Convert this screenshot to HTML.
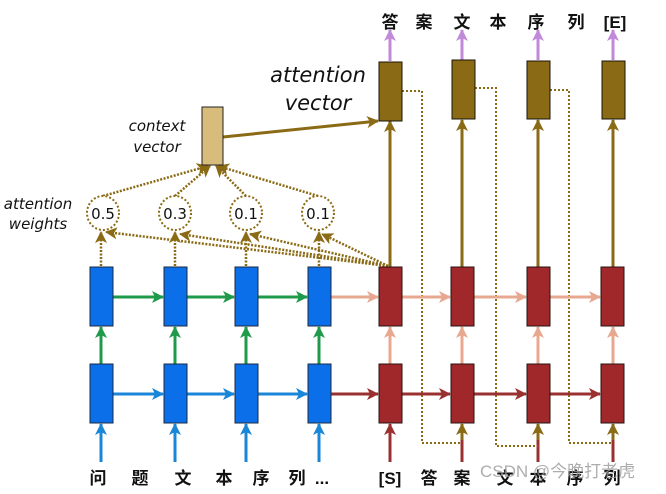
<!DOCTYPE html>
<html><head><meta charset="utf-8"><style>
html,body{margin:0;padding:0;background:#fff;}
svg{display:block;}
.cj{font-family:"Liberation Sans","Noto Sans CJK SC",sans-serif;font-weight:bold;font-size:17px;fill:#111;}
.it{font-family:"DejaVu Sans","Liberation Sans",sans-serif;font-style:italic;fill:#111;}
</style></head><body>
<svg width="666" height="494" viewBox="0 0 666 494" xmlns="http://www.w3.org/2000/svg">
<defs>
<marker id="aB" markerWidth="8" markerHeight="8" refX="7" refY="4" orient="auto" markerUnits="userSpaceOnUse" viewBox="0 0 8 8"><path d="M0,0 L8,4 L0,8 L2,4z" fill="#1a86d8"/></marker>
<marker id="aG" markerWidth="12" markerHeight="12" refX="11" refY="6" orient="auto" markerUnits="userSpaceOnUse"><path d="M0,0 L12,6 L0,12 L3,6z" fill="#1e9a4a"/></marker>
<marker id="aBl" markerWidth="12" markerHeight="12" refX="11" refY="6" orient="auto" markerUnits="userSpaceOnUse"><path d="M0,0 L12,6 L0,12 L3,6z" fill="#1a86d8"/></marker>
<marker id="aP" markerWidth="12" markerHeight="12" refX="11" refY="6" orient="auto" markerUnits="userSpaceOnUse"><path d="M0,0 L12,6 L0,12 L3,6z" fill="#e8a890"/></marker>
<marker id="aR" markerWidth="12" markerHeight="12" refX="11" refY="6" orient="auto" markerUnits="userSpaceOnUse"><path d="M0,0 L12,6 L0,12 L3,6z" fill="#9a3030"/></marker>
<marker id="aBr" markerWidth="12" markerHeight="12" refX="11" refY="6" orient="auto" markerUnits="userSpaceOnUse"><path d="M0,0 L12,6 L0,12 L3,6z" fill="#8a6a14"/></marker>
<marker id="aPu" markerWidth="12" markerHeight="12" refX="11" refY="6" orient="auto" markerUnits="userSpaceOnUse"><path d="M0,0 L12,6 L0,12 L3,6z" fill="#c08ad8"/></marker>
</defs>

<!-- input arrows -->
<g stroke="#1a86d8" stroke-width="3" marker-end="url(#aBl)">
<line x1="101" y1="462" x2="101" y2="424"/><line x1="175" y1="462" x2="175" y2="424"/>
<line x1="246" y1="462" x2="246" y2="424"/><line x1="319" y1="462" x2="319" y2="424"/>
</g>
<g stroke="#9a3030" stroke-width="3">
<line x1="390" y1="462" x2="390" y2="424" marker-end="url(#aR)"/>
<line x1="462" y1="462" x2="462" y2="435"/><line x1="538" y1="462" x2="538" y2="435"/><line x1="613" y1="462" x2="613" y2="435"/>
</g>
<g stroke="#8a6a14" stroke-width="3" marker-end="url(#aBr)">
<line x1="462" y1="440" x2="462" y2="424"/><line x1="538" y1="440" x2="538" y2="424"/><line x1="613" y1="440" x2="613" y2="424"/>
</g>
<!-- dotted feedback -->
<g stroke="#8a6a14" stroke-width="2" stroke-dasharray="2,2" fill="none">
<path d="M402,91 H422 V443 H462"/><path d="M475,88 H496 V446 H538"/><path d="M550,90 H569 V443 H613"/>
</g>

<!-- horizontal arrows -->
<g stroke-width="3">
<line x1="113" y1="394" x2="163" y2="394" stroke="#1a86d8" marker-end="url(#aBl)"/>
<line x1="187" y1="394" x2="234" y2="394" stroke="#1a86d8" marker-end="url(#aBl)"/>
<line x1="258" y1="394" x2="307" y2="394" stroke="#1a86d8" marker-end="url(#aBl)"/>
<line x1="331" y1="394" x2="378" y2="394" stroke="#9a3030" marker-end="url(#aR)"/>
<line x1="402" y1="394" x2="450" y2="394" stroke="#9a3030" marker-end="url(#aR)"/>
<line x1="474" y1="394" x2="526" y2="394" stroke="#9a3030" marker-end="url(#aR)"/>
<line x1="550" y1="394" x2="600" y2="394" stroke="#9a3030" marker-end="url(#aR)"/>
<line x1="113" y1="297" x2="163" y2="297" stroke="#1e9a4a" marker-end="url(#aG)"/>
<line x1="187" y1="297" x2="234" y2="297" stroke="#1e9a4a" marker-end="url(#aG)"/>
<line x1="258" y1="297" x2="307" y2="297" stroke="#1e9a4a" marker-end="url(#aG)"/>
<line x1="331" y1="297" x2="378" y2="297" stroke="#e8a890" marker-end="url(#aP)"/>
<line x1="402" y1="297" x2="450" y2="297" stroke="#e8a890" marker-end="url(#aP)"/>
<line x1="474" y1="297" x2="526" y2="297" stroke="#e8a890" marker-end="url(#aP)"/>
<line x1="550" y1="297" x2="600" y2="297" stroke="#e8a890" marker-end="url(#aP)"/>
<!-- vertical between rows -->
<line x1="101" y1="364" x2="101" y2="327" stroke="#1e9a4a" marker-end="url(#aG)"/>
<line x1="175" y1="364" x2="175" y2="327" stroke="#1e9a4a" marker-end="url(#aG)"/>
<line x1="246" y1="364" x2="246" y2="327" stroke="#1e9a4a" marker-end="url(#aG)"/>
<line x1="319" y1="364" x2="319" y2="327" stroke="#1e9a4a" marker-end="url(#aG)"/>
<line x1="390" y1="364" x2="390" y2="327" stroke="#e8a890" marker-end="url(#aP)"/>
<line x1="462" y1="364" x2="462" y2="327" stroke="#e8a890" marker-end="url(#aP)"/>
<line x1="538" y1="364" x2="538" y2="327" stroke="#e8a890" marker-end="url(#aP)"/>
<line x1="613" y1="364" x2="613" y2="327" stroke="#e8a890" marker-end="url(#aP)"/>
<!-- red to brown -->
<line x1="390" y1="267" x2="390" y2="121" stroke="#8a6a14" marker-end="url(#aBr)"/>
<line x1="462" y1="267" x2="462" y2="120" stroke="#8a6a14" marker-end="url(#aBr)"/>
<line x1="538" y1="267" x2="538" y2="120" stroke="#8a6a14" marker-end="url(#aBr)"/>
<line x1="613" y1="267" x2="613" y2="120" stroke="#8a6a14" marker-end="url(#aBr)"/>
<!-- brown to output -->
<line x1="390" y1="61" x2="390" y2="30" stroke="#c08ad8" marker-end="url(#aPu)"/>
<line x1="462" y1="60" x2="462" y2="30" stroke="#c08ad8" marker-end="url(#aPu)"/>
<line x1="538" y1="60" x2="538" y2="30" stroke="#c08ad8" marker-end="url(#aPu)"/>
<line x1="613" y1="60" x2="613" y2="30" stroke="#c08ad8" marker-end="url(#aPu)"/>
<!-- context to attention vector -->
<line x1="223" y1="137" x2="378" y2="121" stroke="#8a6a14" marker-end="url(#aBr)"/>
</g>

<!-- attention dotted -->
<g stroke="#8a6a14" stroke-width="2.5" stroke-dasharray="2,1.5" fill="none" marker-end="url(#aBr)">
<line x1="101" y1="266" x2="101" y2="232"/><line x1="175" y1="266" x2="175" y2="232"/>
<line x1="246" y1="266" x2="246" y2="232"/><line x1="319" y1="266" x2="319" y2="232"/>
<line x1="388" y1="266" x2="106" y2="232"/><line x1="388" y1="266" x2="180" y2="234"/>
<line x1="388" y1="266" x2="250" y2="234"/><line x1="388" y1="266" x2="322" y2="234"/>
<line x1="103" y1="196" x2="208" y2="166"/><line x1="175" y1="196" x2="210" y2="166"/>
<line x1="246" y1="196" x2="216" y2="166"/><line x1="318" y1="196" x2="218" y2="166"/>
</g>
<g stroke="#8a6a14" stroke-width="2" stroke-dasharray="2,2" fill="#fff">
<ellipse cx="103" cy="213" rx="16" ry="17"/><ellipse cx="175" cy="213" rx="16" ry="17"/>
<ellipse cx="246" cy="213" rx="16" ry="17"/><ellipse cx="318" cy="213" rx="16" ry="17"/>
</g>
<g font-family="DejaVu Sans,Liberation Sans,sans-serif" font-size="15" fill="#111" text-anchor="middle">
<text x="103" y="219">0.5</text><text x="175" y="219">0.3</text><text x="246" y="219">0.1</text><text x="318" y="219">0.1</text>
</g>

<!-- boxes -->
<g fill="#0a6fe8" stroke="#1a2a40" stroke-width="1">
<rect x="90" y="267" width="23" height="59"/><rect x="164" y="267" width="23" height="59"/>
<rect x="235" y="267" width="23" height="59"/><rect x="308" y="267" width="23" height="59"/>
<rect x="90" y="364" width="23" height="59"/><rect x="164" y="364" width="23" height="59"/>
<rect x="235" y="364" width="23" height="59"/><rect x="308" y="364" width="23" height="59"/>
</g>
<g fill="#a0282a" stroke="#2a1010" stroke-width="1">
<rect x="379" y="267" width="23" height="59"/><rect x="451" y="267" width="23" height="59"/>
<rect x="527" y="267" width="23" height="59"/><rect x="601" y="267" width="23" height="59"/>
<rect x="379" y="364" width="23" height="59"/><rect x="451" y="364" width="23" height="59"/>
<rect x="527" y="364" width="23" height="59"/><rect x="601" y="364" width="23" height="59"/>
</g>
<g fill="#8a6a14" stroke="#1a1408" stroke-width="1">
<rect x="379" y="62" width="23" height="59"/><rect x="452" y="60" width="23" height="59"/>
<rect x="527" y="61" width="23" height="58"/><rect x="602" y="61" width="23" height="58"/>
</g>
<rect x="202" y="107" width="21" height="58" fill="#d8bc7c" stroke="#222" stroke-width="1"/>

<!-- italic labels -->
<text class="it" font-size="15" x="157" y="131" text-anchor="middle">context</text>
<text class="it" font-size="15" x="157" y="152" text-anchor="middle">vector</text>
<text class="it" font-size="15" x="38" y="209" text-anchor="middle">attention</text>
<text class="it" font-size="15" x="38" y="229" text-anchor="middle">weights</text>
<text class="it" font-size="21" x="318" y="82" text-anchor="middle">attention</text>
<text class="it" font-size="21" x="318" y="110" text-anchor="middle">vector</text>

<!-- CJK labels -->
<g class="cj" text-anchor="middle">
<text x="390" y="28">答</text><text x="424" y="28">案</text><text x="462" y="28">文</text>
<text x="498" y="28">本</text><text x="536" y="28">序</text><text x="576" y="28">列</text><text x="615" y="28">[E]</text>
<text x="98" y="484">问</text><text x="140" y="484">题</text><text x="183" y="484">文</text>
<text x="224" y="484">本</text><text x="261" y="484">序</text><text x="297" y="484">列</text><text x="322" y="484">...</text>
<text x="390" y="484">[S]</text><text x="429" y="484">答</text><text x="462" y="484">案</text>
<text x="505" y="484">文</text><text x="538" y="484">本</text><text x="575" y="484">序</text><text x="612" y="484">列</text>
</g>
<text x="480" y="477" font-family="Liberation Sans,Noto Sans CJK SC,sans-serif" font-size="17" fill="#999" fill-opacity="0.8">CSDN @今晚打老虎</text>
</svg>
</body></html>
